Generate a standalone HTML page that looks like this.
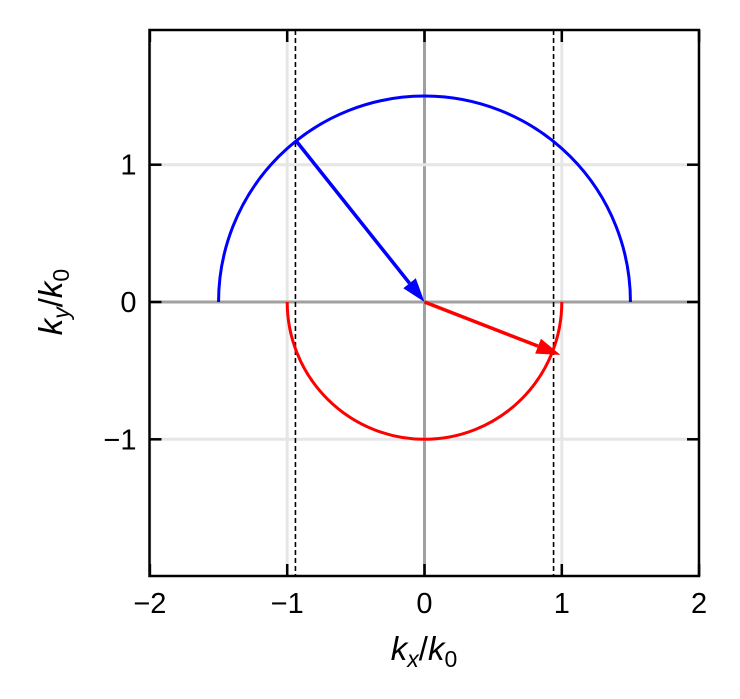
<!DOCTYPE html>
<html><head><meta charset="utf-8"><style>
body{margin:0;background:#fff;}
svg{display:block;font-family:"Liberation Sans","DejaVu Sans",sans-serif;}
</style></head><body>
<svg id="chart" width="740" height="699" viewBox="0 0 740 699"></svg>
<script>
const xTicks=[-2,-1,0,1,2];
const xTickLabels=["−2","−1","0","1","2"];
const yTicks=[-1,0,1];
const yTickLabels=["−1","0","1"];
const blueRadius=[1.5];
const redRadius=[1.0];
const dashedX=[-0.94,0.94];
const blueArrow=[-0.94,1.18,0,0];
const redArrow=[0,0,0.99,-0.385];
const L=149.5,R=699,T=30,B=576;
const X0=424.5,Y0=302,S=137.3;
const sx=v=>X0+v*S, sy=v=>Y0-v*S;
const NS="http://www.w3.org/2000/svg";
const svg=document.getElementById('chart');
function mk(tag,attrs,parent){const e=document.createElementNS(NS,tag);for(const k in attrs)e.setAttribute(k,attrs[k]);(parent||svg).appendChild(e);return e;}
const clipDefs=mk('defs',{});
const cp=mk('clipPath',{id:'pa'},clipDefs);mk('rect',{x:L,y:T,width:R-L,height:B-T},cp);
const g=mk('g',{'clip-path':'url(#pa)'});
xTicks.forEach(t=>{
 const l=mk('line',{x1:sx(t),x2:sx(t),y1:T,y2:B,stroke:t===0?'#a0a0a0':'#e6e6e6','stroke-width':3},g);
 
 
});
[-1,0,1].forEach(t=>{
 const l=mk('line',{x1:L,x2:R,y1:sy(t),y2:sy(t),stroke:t===0?'#a0a0a0':'#e6e6e6','stroke-width':3},g);
 
 
});
dashedX.forEach(d=>{
 const l=mk('line',{x1:sx(d),x2:sx(d),y1:T,y2:B,stroke:'#000','stroke-width':1.6,'stroke-dasharray':'5,3'},g);
 
 
});
const rb=blueRadius[0];
const bc=mk('path',{d:`M${sx(-rb)},${sy(0)} A${rb*S},${rb*S} 0 0 1 ${sx(rb)},${sy(0)}`,fill:'none',stroke:'#0000ff','stroke-width':3},g);


const rr=redRadius[0];
const rc=mk('path',{d:`M${sx(-rr)},${sy(0)} A${rr*S},${rr*S} 0 0 0 ${sx(rr)},${sy(0)}`,fill:'none',stroke:'#ff0000','stroke-width':3},g);


function arrow(a,color,name){
 const x1=sx(a[0]),y1=sy(a[1]),x2=sx(a[2]),y2=sy(a[3]);
 const dx=x2-x1,dy=y2-y1,len=Math.hypot(dx,dy),ux=dx/len,uy=dy/len;
 const hl=24,hw=8;
 const bx=x2-ux*hl,by=y2-uy*hl;
 const grp=mk('g',{},g);
 
 
 mk('line',{x1:x1,y1:y1,x2:bx,y2:by,stroke:color,'stroke-width':3.5},grp);
 mk('polygon',{points:`${x2},${y2} ${bx-uy*hw},${by+ux*hw} ${bx+uy*hw},${by-ux*hw}`,fill:color},grp);
}
arrow(blueArrow,'#0000ff','blue-arrow');
arrow(redArrow,'#ff0000','red-arrow');
const fr=mk('rect',{x:L,y:T,width:R-L,height:B-T,fill:'none',stroke:'#000','stroke-width':2.5});


xTicks.forEach((t,i)=>{
 const x=sx(t);
 mk('line',{x1:x,x2:x,y1:B,y2:B-12,stroke:'#000','stroke-width':2.5});
 mk('line',{x1:x,x2:x,y1:T,y2:T+12,stroke:'#000','stroke-width':2.5});
 const tx=mk('text',{x:x,y:B+37,'font-size':29,'text-anchor':'middle'});
 tx.textContent=xTickLabels[i];
 
 
});
yTicks.forEach((t,i)=>{
 const y=sy(t);
 mk('line',{x1:L,x2:L+12,y1:y,y2:y,stroke:'#000','stroke-width':2.5});
 mk('line',{x1:R,x2:R-12,y1:y,y2:y,stroke:'#000','stroke-width':2.5});
 const tx=mk('text',{x:L-13,y:y+10,'font-size':29,'text-anchor':'end'});
 tx.textContent=yTickLabels[i];
 
 
});
</script>
<svg style="position:absolute;left:0;top:0" width="740" height="699">
<text x="424" y="660" font-size="33" text-anchor="middle" font-family="Liberation Sans, sans-serif"><tspan font-style="italic">k</tspan><tspan font-style="italic" font-size="23" dy="7">x</tspan><tspan dy="-7">/</tspan><tspan font-style="italic">k</tspan><tspan font-size="23" dy="7">0</tspan></text>
<text transform="translate(62,302) rotate(-90)" font-size="33" text-anchor="middle" font-family="Liberation Sans, sans-serif"><tspan font-style="italic">k</tspan><tspan font-style="italic" font-size="23" dy="7">y</tspan><tspan dy="-7">/</tspan><tspan font-style="italic">k</tspan><tspan font-size="23" dy="7">0</tspan></text>
</svg>
</body></html>
